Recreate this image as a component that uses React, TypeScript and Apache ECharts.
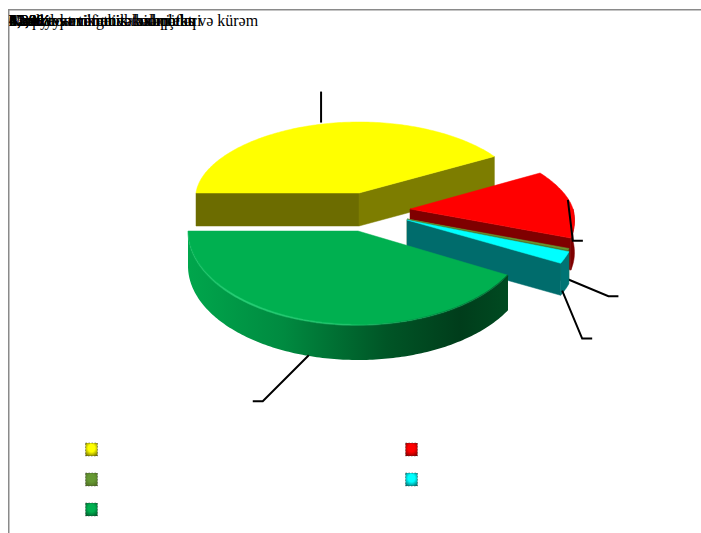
import React, { useEffect, useRef } from "react";
import * as echarts from "echarts";

// Data
const sliceNames = ["Sənaye və tikinti sahələri", "Kənd təsərrüfatı və balıqçılıq", "Nəqliyyat və rabitə xidmətləri", "Mənzil-kommunal təsərrüfatı", "Yanacaq-energetik kompleks və kürəm"];
const sliceValues = [41.4, 13.9, 0.3, 2.2, 42.2];
const percentLabels = ["41,4%", "13,9%", "0,3%", "2,2%", "42,2%"];

// Drawing style
const topColors = ["#FFFF00", "#FF0000", "#669933", "#00FFFF", "#00B050"];
const faceColors = ["#6C6C00", "#7F0000", "#4E6B22", "#006C6C", "#00592B"];
const endFaceColors = ["#7D7D00", "#7F0000", "#4E6B22", "#006C6C", "#00592B"];
const arcColors = ["#7D7D00", "#7F0000", "#4E6B22", "#007474", "#00592B"];
const geometry = [
  { cx: 359, cy: 193, rx: 163, k: 10, far: 71, near: 90, depth: 33 },
  { cx: 410, cy: 209, rx: 163, k: 22, far: 70, near: 89, depth: 32 },
  { cx: 407, cy: 219, rx: 167, k: 13, far: 70, near: 90, depth: 32 },
  { cx: 407, cy: 220, rx: 168, k: 13, far: 70, near: 92, depth: 32 },
  { cx: 358, cy: 231, rx: 170, k: 0, far: 70, near: 94, depth: 35 },
];
const leaders = [
  { wall: false, ax: 3, ay: -2, ex: 0, ey: -31, tail: 0 },
  { wall: false, ax: -2, ay: -2, ex: 5, ey: 41, tail: 10 },
  { wall: true, ax: -3, ay: -3, ex: 43, ey: 18, tail: 10 },
  { wall: true, ax: -3, ay: 1, ex: 20, ey: 48, tail: 10 },
  { wall: true, ax: -8, ay: -2, ex: -46, ey: 46, tail: -10 },
];
const legendPos = [
  [91.5, 449], [411.5, 449], [91.5, 479], [411.5, 479], [91.5, 509],
];

const total = sliceValues.reduce((a, b) => a + b, 0);
const angles: [number, number][] = [];
{
  let a = 180;
  sliceValues.forEach((v) => {
    const next = a - (v / total) * 360;
    angles.push([a, next]);
    a = next;
  });
}

function point(i: number, deg: number, dy = 0): number[] {
  const g = geometry[i];
  const t = (deg * Math.PI) / 180;
  const s = Math.sin(t);
  const rx = g.rx - g.k * s;
  return [g.cx + rx * Math.cos(t), g.cy - (s > 0 ? g.far : g.near) * s + dy];
}

function arc(i: number, from: number, to: number, dy = 0): number[][] {
  const n = Math.max(2, Math.ceil(Math.abs(from - to)));
  const out: number[][] = [];
  for (let j = 0; j <= n; j++) out.push(point(i, from + ((to - from) * j) / n, dy));
  return out;
}

function renderSlice(params: any) {
  const i = params.dataIndex;
  const g = geometry[i];
  const [a, b] = angles[i];
  const apex = [g.cx, g.cy];
  const apexLow = [g.cx, g.cy + g.depth];
  const children: any[] = [];
  const poly = (points: number[][], fill: any) =>
    children.push({ type: "polygon", shape: { points }, style: { fill, stroke: fill, lineWidth: 0.5 } });

  if (Math.cos((a * Math.PI) / 180) < 0) {
    poly([apex, point(i, a), point(i, a, g.depth), apexLow], faceColors[i]);
  }
  if (Math.cos((b * Math.PI) / 180) > 0) {
    poly([apex, point(i, b), point(i, b, g.depth), apexLow], endFaceColors[i]);
  }
  const wallFrom = Math.min(a, 0);
  if (wallFrom > b) {
    const top = arc(i, wallFrom, b);
    const low = arc(i, b, wallFrom, g.depth);
    const isGreen = i === 4;
    const fill = isGreen
      ? new echarts.graphic.LinearGradient(0, 0, 1, 0, [
          { offset: 0, color: "#00A64C" },
          { offset: 0.3, color: "#008A40" },
          { offset: 0.62, color: "#005526" },
          { offset: 0.85, color: "#003D1B" },
          { offset: 1, color: "#004A21" },
        ])
      : arcColors[i];
    children.push({
      type: "polygon",
      shape: { points: top.concat(low) },
      style: { fill, stroke: isGreen ? "none" : arcColors[i], lineWidth: 0.5 },
    });
  }
  poly([apex].concat(arc(i, a, b)), topColors[i]);
  if (i === 4) {
    children.push({
      type: "polyline",
      shape: { points: arc(i, a, b) },
      style: {
        fill: "none",
        lineWidth: 2,
        stroke: new echarts.graphic.LinearGradient(0, 0, 1, 0, [
          { offset: 0, color: "rgba(40,210,120,0.1)" },
          { offset: 0.15, color: "rgba(40,210,120,0.8)" },
          { offset: 0.5, color: "rgba(40,210,120,0.4)" },
          { offset: 0.68, color: "rgba(0,120,60,0.3)" },
          { offset: 1, color: "rgba(0,60,30,0.6)" },
        ]),
      },
    });
  }

  // leader line, from the slice's middle angle
  const L = leaders[i];
  const mid = point(i, (a + b) / 2, L.wall ? g.depth : 0);
  const s = [mid[0] + L.ax, mid[1] + L.ay];
  const e = [s[0] + L.ex, s[1] + L.ey];
  const pts = [s, e];
  if (L.tail) pts.push([e[0] + L.tail, e[1]]);
  children.push({
    type: "polyline",
    shape: { points: pts },
    style: { fill: "none", stroke: "#000000", lineWidth: 2 },
  });

  // legend marker
  const [lx, ly] = legendPos[i];
  children.push({
    type: "rect",
    shape: { x: lx - 6, y: ly - 6, width: 12, height: 13 },
    style: {
      fill: new echarts.graphic.RadialGradient(0.5, 0.4, 0.72, [
        { offset: 0, color: topColors[i] },
        { offset: 0.4, color: topColors[i] },
        { offset: 1, color: faceColors[i] },
      ]),
      stroke: "rgba(70,70,70,0.5)",
      lineWidth: 1,
      lineDash: [1.5, 1.5],
    },
  });

  return { type: "group", children };
}

const overlaid = [...sliceNames, ...percentLabels];

export default function App() {
  const ref = useRef<HTMLDivElement>(null);
  useEffect(() => {
    const chart = echarts.init(ref.current!, undefined, { renderer: "svg" });
    chart.setOption({
      animation: false,
      backgroundColor: "#ffffff",
      graphic: {
        elements: [
          { type: "rect", shape: { x: 8, y: 9, width: 693, height: 1.5 }, style: { fill: "#8A8A8A" } },
          { type: "rect", shape: { x: 8, y: 9, width: 1.5, height: 524 }, style: { fill: "#8A8A8A" } },
          ...overlaid.map((t) => ({
            type: "text",
            x: 9,
            y: 28,
            style: {
              text: t,
              fill: "#000000",
              font: '16px "Liberation Serif"',
              textAlign: "left",
              textVerticalAlign: "bottom",
              verticalAlign: "alphabetic",
            },
          })),
        ],
      },
      series: [
        {
          type: "custom",
          coordinateSystem: "none",
          silent: true,
          renderItem: renderSlice,
          data: sliceValues.map((value, k) => ({ name: sliceNames[k], value })),
        },
      ],
    });
    return () => chart.dispose();
  }, []);
  return <div ref={ref} style={{ position: "fixed", left: 0, top: 0, width: 701, height: 533 }} />;
}
